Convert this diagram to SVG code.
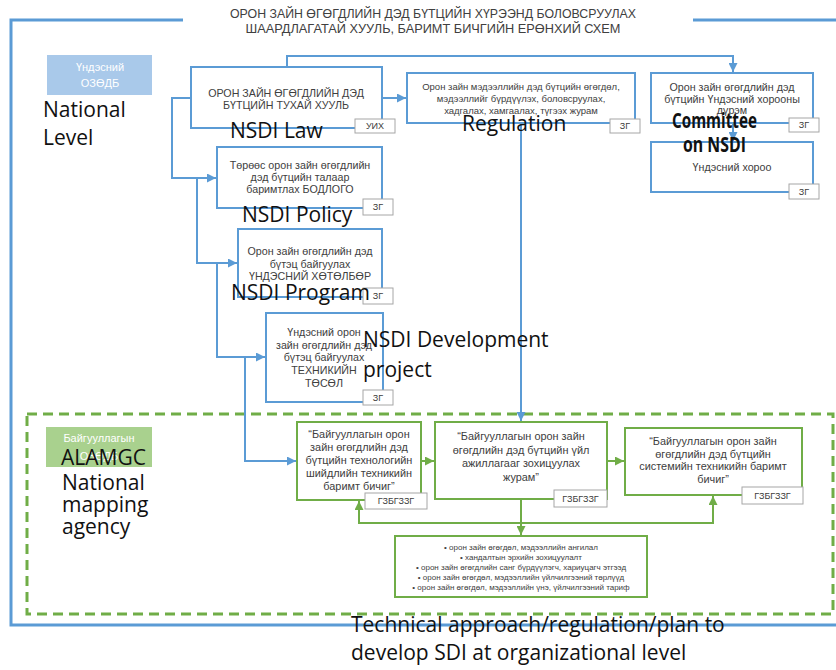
<svg xmlns="http://www.w3.org/2000/svg" width="836" height="670" viewBox="0 0 836 670">
<defs>
<marker id="ab" viewBox="0 0 10 10" refX="10" refY="5" markerWidth="9" markerHeight="9" markerUnits="userSpaceOnUse" orient="auto"><path d="M0,0 L10,5 L0,10 z" fill="#5b9bd5"/></marker>
<marker id="ag" viewBox="0 0 10 10" refX="10" refY="5" markerWidth="9" markerHeight="9" markerUnits="userSpaceOnUse" orient="auto"><path d="M0,0 L10,5 L0,10 z" fill="#70ad47"/></marker>
</defs>
<style>
.bb{fill:#fff;stroke:#5b9bd5;stroke-width:2}
.gb{fill:#fff;stroke:#70ad47;stroke-width:2}
.tag{fill:#fff;stroke:#a6a6a6;stroke-width:1}
.t{font-family:"Liberation Sans",Arial,sans-serif;fill:#404040;text-anchor:middle}
.s10{font-size:10.7px}
.s95{font-size:9.5px}
.s105{font-size:10.9px}
.s8{font-size:8px}
.tg{font-family:"Liberation Sans",Arial,sans-serif;font-size:9px;fill:#404040;text-anchor:middle}
.big{font-family:"Open Sans","DejaVu Sans",sans-serif;font-size:21px;fill:#111}
.cb{stroke:#5b9bd5;stroke-width:2;fill:none}
.cg{stroke:#70ad47;stroke-width:2;fill:none}
.lbl{font-family:"Liberation Sans",Arial,sans-serif;font-size:11px;fill:#fff;text-anchor:middle}
</style>

<g id="frame">
<path d="M183,20 H11 V625 H836" fill="none" stroke="#5b9bd5" stroke-width="3"/>
<path d="M693,20 H836" fill="none" stroke="#5b9bd5" stroke-width="3"/>
<rect x="27" y="414" width="806" height="200" fill="none" stroke="#70ad47" stroke-width="3" stroke-dasharray="10 6"/>
</g>

<g id="title">
<text class="t" x="433" y="18" font-size="12" textLength="406" lengthAdjust="spacingAndGlyphs" fill="#111">ОРОН ЗАЙН ӨГӨГДЛИЙН ДЭД БҮТЦИЙН ХҮРЭЭНД БОЛОВСРУУЛАХ</text>
<text class="t" x="433" y="33" font-size="12" textLength="375" lengthAdjust="spacingAndGlyphs" fill="#111">ШААРДЛАГАТАЙ ХУУЛЬ, БАРИМТ БИЧГИЙН ЕРӨНХИЙ СХЕМ</text>
</g>

<g id="connectors">
<path class="cb" d="M287,67 V56 H733 V72" marker-end="url(#ab)"/>
<path class="cb" d="M382,98 H406" marker-end="url(#ab)"/>
<path class="cb" d="M521,123 V421" marker-end="url(#ab)"/>
<path class="cb" d="M733,123 V141" marker-end="url(#ab)"/>
<path class="cb" d="M191,98 H172 V178 H216" marker-end="url(#ab)"/>
<path class="cb" d="M197,178 V263 H237" marker-end="url(#ab)"/>
<path class="cb" d="M217,263 V357 H265" marker-end="url(#ab)"/>
<path class="cb" d="M245,357 V461 H296" marker-end="url(#ab)"/>
<path class="cg" d="M421,461 H434" marker-end="url(#ag)"/>
<path class="cg" d="M607,461 H624" marker-end="url(#ag)"/>
<path class="cg" d="M521,499 V535" marker-end="url(#ag)"/>
<path class="cg" d="M521,523 H359 V501" marker-end="url(#ag)"/>
<path class="cg" d="M521,523 H713 V496" marker-end="url(#ag)"/>
</g>

<g id="label-national">
<rect x="47" y="55" width="105" height="40" fill="#a9c9ea"/>
<text class="lbl" x="100" y="71">Үндэсний</text>
<text class="lbl" x="100" y="87">ОЗӨДБ</text>
<text class="big" x="43" y="117">National</text>
<text class="big" x="43" y="145">Level</text>
</g>

<g id="law">
<rect class="bb" x="191" y="67" width="191" height="61"/>
<text class="t s10" x="286" y="97">ОРОН ЗАЙН ӨГӨГДЛИЙН ДЭД</text>
<text class="t s10" x="286" y="108.5">БҮТЦИЙН ТУХАЙ ХУУЛЬ</text>
<rect class="tag" x="355" y="119" width="40" height="14"/>
<text class="tg" x="375" y="129">УИХ</text>
<text class="big" x="230" y="138">NSDI Law</text>
</g>

<g id="regulation">
<rect class="bb" x="407" y="73" width="228" height="50"/>
<text class="t s95" x="521" y="89.5">Орон зайн мэдээллийн дэд бүтцийн өгөгдөл,</text>
<text class="t s95" x="521" y="101.5">мэдээллийг бүрдүүлэх, боловсруулах,</text>
<text class="t s95" x="521" y="113.5">хадгалах, хамгаалах, түгээх журам</text>
<rect class="tag" x="610" y="119" width="30" height="14"/>
<text class="tg" x="625" y="129">ЗГ</text>
<text class="big" x="462" y="131">Regulation</text>
</g>

<g id="committee-charter">
<rect class="bb" x="651" y="73" width="162" height="50"/>
<text class="t s10" x="732" y="90.5">Орон зайн өгөгдлийн дэд</text>
<text class="t s10" x="732" y="102.5">бүтцийн Үндэсний хорооны</text>
<text class="t s10" x="732" y="114">дүрэм</text>
<rect class="tag" x="789" y="118" width="30" height="14"/>
<text class="tg" x="804" y="128">ЗГ</text>
</g>

<g id="committee">
<rect class="bb" x="651" y="142" width="162" height="50"/>
<text class="t s10" x="732" y="170.5">Үндэсний хороо</text>
<rect class="tag" x="789" y="184" width="30" height="15"/>
<text class="tg" x="804" y="195">ЗГ</text>
<text class="big" x="672" y="128" font-size="16" font-weight="bold" textLength="85" lengthAdjust="spacingAndGlyphs">Committee</text>
<text class="big" x="683" y="152" font-size="16" font-weight="bold" textLength="63" lengthAdjust="spacingAndGlyphs">on NSDI</text>
</g>

<g id="policy">
<rect class="bb" x="217" y="147" width="165" height="61"/>
<text class="t s10" x="300" y="168.5">Төрөөс орон зайн өгөгдлийн</text>
<text class="t s10" x="300" y="180.5">дэд бүтцийн талаар</text>
<text class="t s10" x="300" y="193">баримтлах БОДЛОГО</text>
<rect class="tag" x="363" y="199" width="30" height="16"/>
<text class="tg" x="378" y="210">ЗГ</text>
<text class="big" x="242" y="222">NSDI Policy</text>
</g>

<g id="program">
<rect class="bb" x="238" y="229" width="144" height="68"/>
<text class="t s10" x="310" y="254.5">Орон зайн өгөгдлийн дэд</text>
<text class="t s10" x="310" y="267.5">бүтэц байгуулах</text>
<text class="t s10" x="310" y="279.5">ҮНДЭСНИЙ ХӨТӨЛБӨР</text>
<rect class="tag" x="363" y="288" width="30" height="16"/>
<text class="tg" x="378" y="299">ЗГ</text>
<text class="big" x="231" y="300">NSDI Program</text>
</g>

<g id="project">
<rect class="bb" x="266" y="313" width="117" height="89"/>
<text class="t s10" x="324" y="335.5">Үндэсний орон</text>
<text class="t s10" x="324" y="348.5">зайн өгөгдлийн дэд</text>
<text class="t s10" x="324" y="360.5">бүтэц байгуулах</text>
<text class="t s10" x="324" y="373.5">ТЕХНИКИЙН</text>
<text class="t s10" x="324" y="386.5">ТӨСӨЛ</text>
<rect class="tag" x="363" y="390" width="30" height="15"/>
<text class="tg" x="378" y="401">ЗГ</text>
<text class="big" x="363" y="347">NSDI Development</text>
<text class="big" x="363" y="377">project</text>
</g>

<g id="label-org">
<rect x="46" y="427" width="106" height="40" fill="#a9d18e"/>
<text class="lbl" x="99" y="442">Байгууллагын</text>
<text class="lbl" x="99" y="460">ОЗӨДБ</text>
<text class="big" x="61" y="465" font-size="22">ALAMGC</text>
<text class="big" x="62" y="490" font-size="16.5">National</text>
<text class="big" x="62" y="512" font-size="16.5">mapping</text>
<text class="big" x="62" y="534" font-size="16.5">agency</text>
</g>

<g id="g1">
<rect class="gb" x="297" y="422" width="124" height="78"/>
<text class="t s105" x="359" y="438">“Байгууллагын орон</text>
<text class="t s105" x="359" y="451">зайн өгөгдлийн дэд</text>
<text class="t s105" x="359" y="464">бүтцийн технологийн</text>
<text class="t s105" x="359" y="477">шийдлийн техникийн</text>
<text class="t s105" x="359" y="490">баримт бичиг”</text>
<rect class="tag" x="365" y="493" width="62" height="16"/>
<text class="tg" x="396" y="504">ГЗБГЗЗГ</text>
</g>

<g id="g2">
<rect class="gb" x="435" y="422" width="172" height="77"/>
<text class="t s105" x="521" y="440">“Байгууллагын орон зайн</text>
<text class="t s105" x="521" y="453.5">өгөгдлийн дэд бүтцийн үйл</text>
<text class="t s105" x="521" y="467">ажиллагааг зохицуулах</text>
<text class="t s105" x="521" y="480.5">журам”</text>
<rect class="tag" x="554" y="490" width="53" height="17"/>
<text class="tg" x="580.5" y="502">ГЗБГЗЗГ</text>
</g>

<g id="g3">
<rect class="gb" x="625" y="428" width="177" height="67"/>
<text class="t s105" x="713" y="445">“Байгууллагын орон зайн</text>
<text class="t s105" x="713" y="457.5">өгөгдлийн дэд бүтцийн</text>
<text class="t s105" x="713" y="470">системийн техникийн баримт</text>
<text class="t s105" x="713" y="483">бичиг”</text>
<rect class="tag" x="742" y="487" width="61" height="17"/>
<text class="tg" x="772.5" y="499">ГЗБГЗЗГ</text>
</g>

<g id="list">
<rect class="gb" x="395" y="536" width="252" height="61"/>
<text class="t s8" x="521" y="550">•  орон зайн өгөгдөл, мэдээллийн ангилал</text>
<text class="t s8" x="521" y="560">•  хандалтын эрхийн зохицуулалт</text>
<text class="t s8" x="521" y="570">•  орон зайн өгөгдлийн санг бүрдүүлэгч, хариуцагч этгээд</text>
<text class="t s8" x="521" y="580">•  орон зайн өгөгдөл, мэдээллийн үйлчилгээний төрлүүд</text>
<text class="t s8" x="521" y="590">•  орон зайн өгөгдөл, мэдээллийн үнэ, үйлчилгээний тариф</text>
</g>

<g id="caption">
<text class="big" x="351" y="632">Technical approach/regulation/plan to</text>
<text class="big" x="351" y="660">develop SDI at organizational level</text>
</g>
</svg>
